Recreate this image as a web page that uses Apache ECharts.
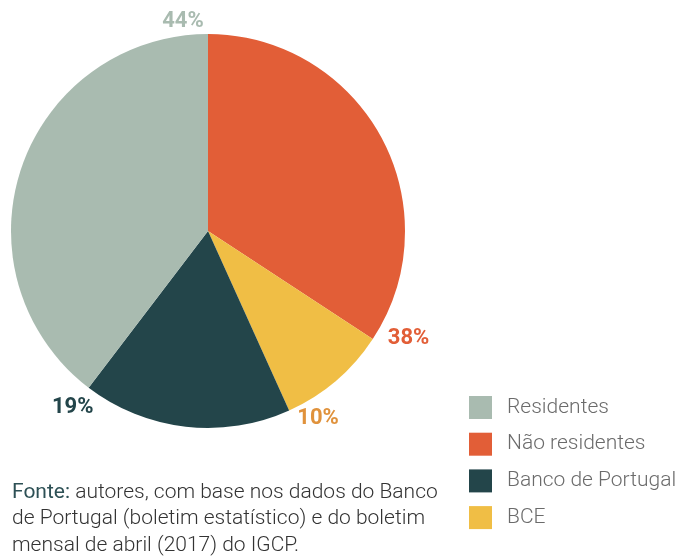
<!DOCTYPE html>
<html>
<head>
<meta charset="utf-8">
<script src="https://cdn.jsdelivr.net/npm/echarts@6/dist/echarts.min.js"></script>
<style>
  html, body { margin: 0; padding: 0; background: #fff; }
  #chart { width: 680px; height: 558px; }
</style>
</head>
<body>
<div id="chart"></div>
<script>
// pie order, clockwise from 12 o'clock
const names = ["Não residentes", "BCE", "Banco de Portugal", "Residentes"];
const values = [38, 10, 19, 44];
const valueLabels = ["38%", "10%", "19%", "44%"];
const legendOrder = ["Residentes", "Não residentes", "Banco de Portugal", "BCE"];

const colors = {
  "Residentes": "#a9bbb0",
  "Não residentes": "#e25e37",
  "Banco de Portugal": "#23454a",
  "BCE": "#f0be45"
};
const labelColors = ["#e25e37", "#e0923c", "#23454a", "#a9bbb0"];
// small hand nudges for the percent labels
const labelNudge = [[5, 7], [-1, -2], [-21, -11], [-2, 9]];

const cx = 208, cy = 231, R = 197;
const total = values.reduce((a, b) => a + b, 0);
let acc = 0;
const endAngles = values.map((v) => {
  acc += v;
  return (acc / total) * 360;
});

const chart = echarts.init(document.getElementById("chart"));
chart.setOption({
  animation: false,
  legend: {
    orient: "vertical",
    left: 464,
    top: 391,
    itemWidth: 23,
    itemHeight: 23,
    itemGap: 13.7,
    icon: "rect",
    data: legendOrder,
    textStyle: {
      color: "#6b6b6b",
      fontSize: 21,
      fontFamily: "Roboto",
      fontWeight: 300,
      padding: [0, 0, 0, 10]
    }
  },
  series: [
    {
      type: "pie",
      center: [cx, cy],
      radius: [0, R],
      startAngle: 90,
      clockwise: true,
      avoidLabelOverlap: false,
      emphasis: { disabled: true },
      labelLine: { show: false },
      data: names.map((n, i) => ({
        name: n,
        value: values[i],
        itemStyle: { color: colors[n] },
        label: { color: labelColors[i] }
      })),
      label: {
        show: true,
        position: "outside",
        formatter: (p) => valueLabels[p.dataIndex],
        fontSize: 22,
        fontWeight: "bold",
        fontFamily: "Roboto"
      },
      labelLayout: (p) => {
        const a = ((endAngles[p.dataIndex] - 6) * Math.PI) / 180;
        const d = 220;
        const n = labelNudge[p.dataIndex];
        return {
          x: cx + d * Math.sin(a) + n[0],
          y: cy - d * Math.cos(a) + n[1],
          align: "center",
          verticalAlign: "middle"
        };
      }
    }
  ],
  graphic: [
    {
      type: "text",
      left: 12,
      top: 479,
      style: {
        text: "{a|Fonte:} autores, com base nos dados do Banco\nde Portugal (boletim estatístico) e do boletim\nmensal de abril (2017) do IGCP.",
        fill: "#333",
        fontSize: 21,
        fontFamily: "Roboto",
        fontWeight: 300,
        lineHeight: 26.5,
        rich: {
          a: { fill: "#2d5055", fontSize: 21, fontFamily: "Roboto", fontWeight: 400, lineHeight: 26.5 }
        }
      }
    }
  ]
});
window.addEventListener("resize", () => chart.resize());
</script>
</body>
</html>
